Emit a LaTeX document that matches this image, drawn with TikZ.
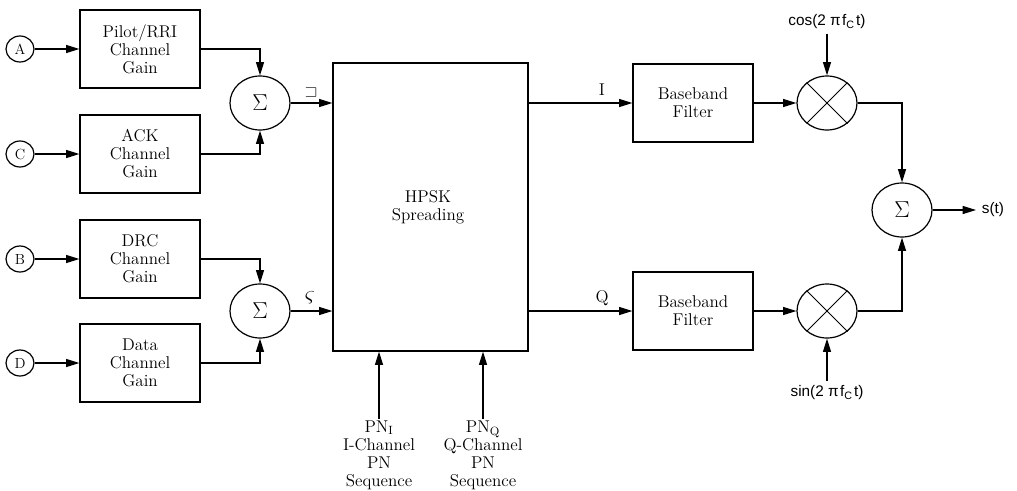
\documentclass[tikz,border=0pt]{standalone}
\usepackage{amssymb}
\usepackage{fontspec}
\newfontfamily\lblfont{Liberation Sans}
\usetikzlibrary{arrows.meta,shapes.geometric}

\begin{document}
\begin{tikzpicture}[x=0.75pt, y=-0.75pt, line width=0.9pt,
    >={Triangle[length=10pt,width=6pt]},
    every node/.style={font=\fontsize{12.8}{13.5}\selectfont},
    gainbox/.style={draw, minimum width=90pt, minimum height=58.5pt, align=center, inner sep=2pt},
    srcnode/.style={draw, ellipse, minimum width=21pt, minimum height=19.5pt, inner sep=0pt,
                    font=\fontsize{11}{12}\selectfont},
    sumnode/.style={draw, ellipse, minimum width=45pt, minimum height=40.5pt, inner sep=0pt, font=\LARGE},
    mixnode/.style={draw, ellipse, minimum width=45pt, minimum height=40.5pt, inner sep=0pt},
    sigtext/.style={font=\lblfont\fontsize{11.5}{13}\selectfont, inner sep=3pt}]
  \useasboundingbox (0,0) rectangle (1017,490);

  % channel inputs and their gains
  \node[srcnode] (srcA) at (20,49) {A};
  \node[srcnode] (srcC) at (20,154) {C};
  \node[srcnode] (srcB) at (20,259) {B};
  \node[srcnode] (srcD) at (20,363) {D};
  \node[gainbox] (pilot) at (140,49) {Pilot/RRI\\Channel\\Gain};
  \node[gainbox] (ack)   at (140,154) {ACK\\Channel\\Gain};
  \node[gainbox] (drc)   at (140,259) {DRC\\Channel\\Gain};
  \node[gainbox] (data)  at (140,363) {Data\\Channel\\Gain};
  % summing into the I and Q branches
  \node[sumnode] (sumI) at (260,103) {$\Sigma$};
  \node[sumnode] (sumQ) at (260,311) {$\Sigma$};
  \node[font=\large] (lblI) at (311,92) {$\sqsupset$};
  \node[font=\LARGE] (lblQ) at (310,298) {$\varsigma$};

  % spreading block with its PN inputs
  \node[draw, minimum width=146.25pt, minimum height=216pt] (hpsk) at (430.5,207) {};
  \node[align=center] (hpsktxt) at (428,207) {HPSK\\Spreading};
  \node[align=center, inner sep=1pt] (pnI) at (379,455) {PN$_{\mathrm{I}}$\\I-Channel\\PN\\Sequence};
  \node[align=center, inner sep=1pt] (pnQ) at (483,455) {PN$_{\mathrm{Q}}$\\Q-Channel\\PN\\Sequence};

  % filters, mixers and output sum
  \node[gainbox] (bbI) at (693,103) {Baseband\\Filter};
  \node[gainbox] (bbQ) at (693,311) {Baseband\\Filter};
  \node (outI) at (602,90) {I};
  \node (outQ) at (602,298) {Q};
  \node[mixnode] (mixI) at (827,103) {};
  \node[mixnode] (mixQ) at (827,311) {};
  \node[sigtext] (cosc) at (827,22) {cos(2 π\kern1pt f\textsubscript{C}\kern1pt t)};
  \node[sigtext] (sinc) at (827,393) {sin(2 π\kern1pt f\textsubscript{C}\kern1pt t)};
  \node[sumnode] (sumS) at (902,210) {$\Sigma$};
  \node[sigtext, inner sep=4pt] (st) at (993,210) {s(t)};

  \draw[line width=0.6pt] (mixI.45) -- (mixI.225) (mixI.135) -- (mixI.315);
  \draw[line width=0.6pt] (mixQ.45) -- (mixQ.225) (mixQ.135) -- (mixQ.315);

  \draw[->] (srcA) -- (pilot);
  \draw[->] (srcC) -- (ack);
  \draw[->] (srcB) -- (drc);
  \draw[->] (srcD) -- (data);
  \draw[->] (pilot.east) -| (sumI.north);
  \draw[->] (ack.east)   -| (sumI.south);
  \draw[->] (drc.east)   -| (sumQ.north);
  \draw[->] (data.east)  -| (sumQ.south);
  \draw[->] (sumI.east) -- (hpsk.west |- sumI.east);
  \draw[->] (sumQ.east) -- (hpsk.west |- sumQ.east);
  \draw[->] (pnI.north) -- (pnI.north |- hpsk.south);
  \draw[->] (pnQ.north) -- (pnQ.north |- hpsk.south);
  \draw[->] (hpsk.east |- bbI.west) -- (bbI.west);
  \draw[->] (hpsk.east |- bbQ.west) -- (bbQ.west);
  \draw[->] (bbI.east) -- (mixI.west);
  \draw[->] (bbQ.east) -- (mixQ.west);
  \draw[->] (cosc.south) -- (mixI.north);
  \draw[->] (sinc.north) -- (mixQ.south);
  \draw[->] (mixI.east) -| (sumS.north);
  \draw[->] (mixQ.east) -| (sumS.south);
  \draw[->] (sumS.east) -- (st.west);
\end{tikzpicture}
\end{document}
